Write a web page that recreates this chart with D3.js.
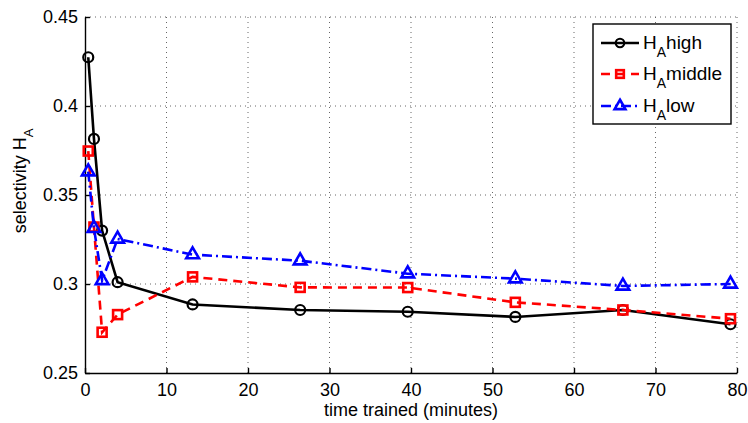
<!DOCTYPE html>
<html>
<head>
<meta charset="utf-8">
<script src="https://cdn.jsdelivr.net/npm/d3@7"></script>
<style>
  body { margin: 0; background: #fff; }
  svg { display: block; font-family: "Liberation Sans", Arial, sans-serif; }
</style>
</head>
<body>
<svg id="chart" width="748" height="423"></svg>
<script>
// time trained (minutes)
const times = [0.4, 1.1, 2.1, 4, 13.2, 26.4, 39.6, 52.8, 66, 79.2];
const highVals = [0.4274, 0.3815, 0.330, 0.301, 0.2885, 0.2854, 0.2844, 0.2815, 0.2854, 0.2774];
const middleVals = [0.3747, 0.332, 0.2729, 0.2828, 0.304, 0.2981, 0.298, 0.2897, 0.2854, 0.2805];
const lowVals = [0.3631, 0.3313, 0.302, 0.3253, 0.3165, 0.3131, 0.3058, 0.303, 0.2989, 0.300];
const xTicks = [0, 10, 20, 30, 40, 50, 60, 70, 80];
const yTicks = [0.25, 0.3, 0.35, 0.4, 0.45];
const seriesNames = ["high", "middle", "low"];

const series = [
  { name: seriesNames[0], vals: highVals, color: "#000", dash: null, marker: "circle" },
  { name: seriesNames[1], vals: middleVals, color: "#ff0000", dash: "9,6", marker: "square" },
  { name: seriesNames[2], vals: lowVals, color: "#0000ff", dash: "10,4,2,4", marker: "triangle" }
];

const svg = d3.select("#chart");
const plotL = 85, plotR = 737, plotT = 17, plotB = 373;

const x = d3.scaleLinear().domain([0, 80]).range([plotL, plotR]);
const y = d3.scaleLinear().domain([0.25, 0.45]).range([plotB, plotT]);

// grid (dotted, like matlab's grid on)
svg.append("g").selectAll("line").data(xTicks.slice(1)).join("line")
  .attr("x1", d => x(d)).attr("x2", d => x(d))
  .attr("y1", plotT).attr("y2", plotB)
  .attr("stroke", "#666").attr("stroke-width", 1).attr("stroke-dasharray", "1,4");
svg.append("g").selectAll("line").data(yTicks.slice(1)).join("line")
  .attr("x1", plotL).attr("x2", plotR)
  .attr("y1", d => y(d)).attr("y2", d => y(d))
  .attr("stroke", "#666").attr("stroke-width", 1).attr("stroke-dasharray", "1,4");

// axes
const xAxis = svg.append("g").attr("transform", `translate(0,${plotB})`)
  .call(d3.axisBottom(x).tickValues(xTicks).tickFormat(d3.format("d")).tickSizeInner(-5).tickSizeOuter(0).tickPadding(9));
const yAxis = svg.append("g").attr("transform", `translate(${plotL},0)`)
  .call(d3.axisLeft(y).tickValues(yTicks).tickFormat(d => d === 0.3 ? "0.3" : d === 0.4 ? "0.4" : d3.format(".2f")(d)).tickSizeInner(-5).tickSizeOuter(0).tickPadding(7));
[xAxis, yAxis].forEach(a => {
  a.selectAll("path, line").attr("stroke", "#000").attr("stroke-width", 1.4);
  a.selectAll("text").attr("fill", "#000").style("font-size", "18px").style("font-family", "Liberation Sans, Arial, sans-serif");
});
xAxis.selectAll("text").attr("dy", "0.8em");

// axis labels
svg.append("text").attr("x", (plotL + plotR) / 2).attr("y", 416)
  .attr("text-anchor", "middle").style("font-size", "18px").text("time trained (minutes)");
const yl = svg.append("text").attr("transform", `translate(26,181) rotate(-90)`)
  .attr("text-anchor", "middle").style("font-size", "18px");
yl.append("tspan").text("selectivity H");
yl.append("tspan").attr("dy", 7).style("font-size", "13px").text("A");

// markers
function drawMarker(g, type, color, k = 1) {
  if (type === "circle") {
    g.append("circle").attr("r", 5 * k).attr("fill", "none").attr("stroke", color).attr("stroke-width", 2.2);
  } else if (type === "square") {
    g.append("rect").attr("x", -4.5 * k).attr("y", -4.5 * k).attr("width", 9 * k).attr("height", 9 * k)
      .attr("fill", "none").attr("stroke", color).attr("stroke-width", 2.6);
  } else {
    g.append("path").attr("d", d3.symbol(d3.symbolTriangle, 70 * k * k)())
      .attr("fill", "none").attr("stroke", color).attr("stroke-width", 2.6);
  }
}

const line = d3.line().x((d, i) => x(times[i])).y(d => y(d));

series.forEach(s => {
  svg.append("path").datum(s.vals).attr("d", line)
    .attr("fill", "none").attr("stroke", s.color).attr("stroke-width", 2.6)
    .attr("stroke-dasharray", s.dash);
  svg.append("g").selectAll("g").data(s.vals).join("g")
    .attr("transform", (d, i) => `translate(${x(times[i])},${y(d)})`)
    .each(function () { drawMarker(d3.select(this), s.marker, s.color); });
});

// legend
const lg = svg.append("g");
lg.append("rect").attr("x", 593).attr("y", 24).attr("width", 138).attr("height", 100)
  .attr("fill", "#fff").attr("stroke", "#000").attr("stroke-width", 1.4);
const rowY = [43, 74, 106];
series.forEach((s, i) => {
  const r = lg.append("g").attr("transform", `translate(0,${rowY[i]})`);
  r.append("line").attr("x1", 601).attr("x2", 639).attr("y1", 0).attr("y2", 0)
    .attr("stroke", s.color).attr("stroke-width", 2.6).attr("stroke-dasharray", s.dash);
  const m = r.append("g").attr("transform", "translate(620,0)");
  drawMarker(m, s.marker, s.color, 0.85);
  const t = r.append("text").attr("x", 643).attr("y", 6).style("font-size", "19px");
  t.append("tspan").text("H");
  t.append("tspan").attr("dy", 8).style("font-size", "14px").text("A");
  t.append("tspan").attr("dy", -8).text(s.name);
});
</script>
</body>
</html>
